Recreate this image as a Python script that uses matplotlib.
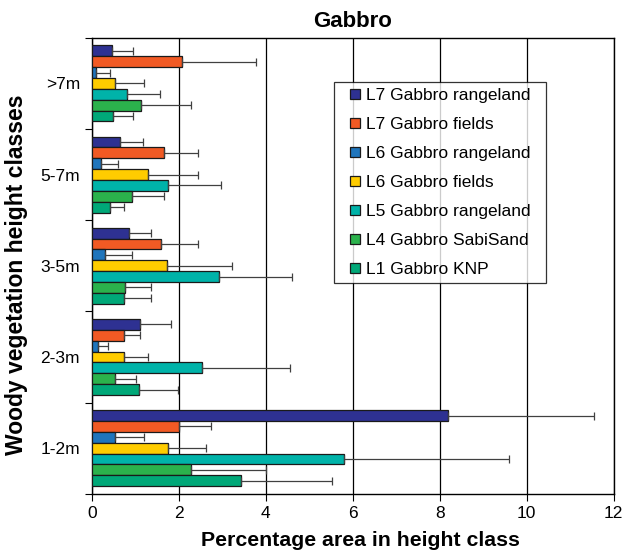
import matplotlib.pyplot as plt
from matplotlib.patches import Rectangle
from matplotlib.legend_handler import HandlerPatch
from matplotlib.container import BarContainer
import numpy as np

plt.rcParams['font.family'] = ['Liberation Sans', 'DejaVu Sans']

# height classes, bottom to top
classes = ['1-2m', '2-3m', '3-5m', '5-7m', '>7m']

series = ['L7 Gabbro rangeland', 'L7 Gabbro fields', 'L6 Gabbro rangeland',
          'L6 Gabbro fields', 'L5 Gabbro rangeland', 'L4 Gabbro SabiSand',
          'L1 Gabbro KNP']
colors = ['#2E3192', '#F15A24', '#1F75BC', '#FFCC00', '#00B3A9', '#2BB24C', '#00A878']

# mean % area per class (1-2m, 2-3m, 3-5m, 5-7m, >7m)
l7_range = [8.20, 1.11, 0.86, 0.64, 0.47]
l7_fields = [2.01, 0.74, 1.60, 1.65, 2.08]
l6_range = [0.53, 0.13, 0.31, 0.21, 0.10]
l6_fields = [1.74, 0.74, 1.72, 1.30, 0.53]
l5_range = [5.79, 2.54, 2.92, 1.74, 0.80]
l4_sabi = [2.27, 0.54, 0.77, 0.93, 1.12]
l1_knp = [3.44, 1.09, 0.74, 0.41, 0.49]

# upper error (SD)
l7_range_err = [3.34, 0.71, 0.49, 0.54, 0.47]
l7_fields_err = [0.74, 0.36, 0.85, 0.78, 1.70]
l6_range_err = [0.68, 0.25, 0.62, 0.40, 0.31]
l6_fields_err = [0.89, 0.56, 1.51, 1.13, 0.67]
l5_range_err = [3.81, 2.02, 1.68, 1.23, 0.77]
l4_sabi_err = [1.74, 0.48, 0.60, 0.72, 1.16]
l1_knp_err = [2.09, 0.88, 0.61, 0.32, 0.45]

means = [l7_range, l7_fields, l6_range, l6_fields, l5_range, l4_sabi, l1_knp]
errs = [l7_range_err, l7_fields_err, l6_range_err, l6_fields_err,
        l5_range_err, l4_sabi_err, l1_knp_err]


def small_square(legend, orig_handle, xdescent, ydescent, width, height, fontsize):
    # square key pushed to the right end of the handle box
    s = 0.58 * fontsize
    return Rectangle((width - s - xdescent, (height - s) / 2 - ydescent), s, s)


def from_first_bar(tgt, src):
    tgt.update_from(src.patches[0])


fig = plt.figure(figsize=(6.25, 5.56), dpi=100)
ax = fig.add_axes([0.147, 0.112, 0.835, 0.820])

y = np.arange(len(classes))
h = 0.119
for i, (name, m, e, c) in enumerate(zip(series, means, errs, colors)):
    pos = y + (3 - i) * h
    ax.barh(pos, m, height=h, color=c, edgecolor='#1a1a1a', linewidth=0.9,
            label=name, zorder=3)
    ax.errorbar(m, pos, xerr=[np.zeros(len(m)), e], fmt='none', ecolor='#404040',
                elinewidth=0.9, capsize=2.8, capthick=0.9, zorder=4)

ax.set_xlim(0, 12)
ax.set_ylim(-0.5, 4.5)
ax.set_xticks(np.arange(0, 13, 2))
ax.xaxis.grid(True, color='black', linewidth=0.9, zorder=0)
ax.set_axisbelow(True)

ax.set_yticks(np.arange(-0.5, 4.6, 1))
ax.set_yticklabels([])
ax.set_yticks(y, minor=True)
ax.set_yticklabels(classes, minor=True)
ax.tick_params(axis='y', which='minor', length=0, labelsize=12.5, pad=8.5)
ax.tick_params(axis='y', which='major', length=5, direction='out')
ax.tick_params(axis='x', length=5, direction='out', labelsize=12.5)

for s in ax.spines.values():
    s.set_linewidth(1.0)

ax.set_title('Gabbro', fontsize=16, fontweight='bold', pad=8)
ax.set_xlabel('Percentage area in height class', fontsize=15.3, fontweight='bold')
ax.xaxis.set_label_coords(0.514, -0.082)
ax.set_ylabel('Woody vegetation height classes', fontsize=16.5, fontweight='bold')
ax.yaxis.set_label_coords(-0.122, 0.48)

leg = ax.legend(loc='upper left', bbox_to_anchor=(0.5344, 0.4843, 0.3392, 0.3687),
                bbox_transform=fig.transFigure, mode='expand', fontsize=12.5,
                frameon=True, fancybox=False, edgecolor='black',
                handler_map={BarContainer: HandlerPatch(patch_func=small_square,
                                                        update_func=from_first_bar)},
                handlelength=1.15, handleheight=0.7, labelspacing=0.8,
                handletextpad=0.38, borderpad=0.33, borderaxespad=0)
leg.get_frame().set_linewidth(0.9)

fig.savefig('out.png', dpi=100)
